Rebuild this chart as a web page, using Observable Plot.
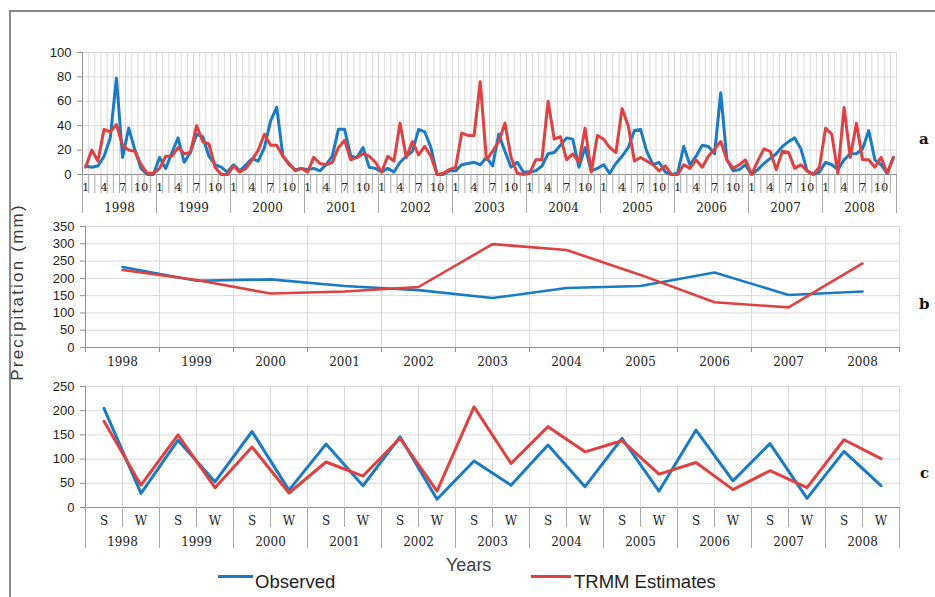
<!DOCTYPE html>
<html>
<head>
<meta charset="utf-8">
<script src="https://cdn.jsdelivr.net/npm/d3@7"></script>
<script src="https://cdn.jsdelivr.net/npm/@observablehq/plot@0.6"></script>
<style>
  body { margin: 0; background: #fff; }
  #fig { position: relative; width: 935px; height: 597px; overflow: hidden; background: #fff; }
  .frame { position: absolute; left: 9px; top: 10px; width: 960px; height: 620px;
           border-left: 2px solid #8a8a8a; border-top: 2px solid #8a8a8a; }
  .panel { position: absolute; left: 0; }
  .lab { position: absolute; font-family: "DejaVu Serif", serif; font-weight: bold; font-size: 15px; color: #111; }
  .ytitle { position: absolute; left: -92px; top: 282px; width: 220px; text-align: center;
            transform: rotate(-90deg); font-family: "Liberation Sans", Arial, sans-serif;
            font-size: 17px; letter-spacing: 2.2px; color: #3a3a3a; white-space: nowrap; }
  .xtitle { position: absolute; left: 446px; top: 555px; font-family: "Liberation Sans", Arial, sans-serif;
            font-size: 18px; color: #404040; }
  .legtext { position: absolute; font-family: "Liberation Sans", Arial, sans-serif; font-size: 18.5px; color: #222; }
  .legline { position: absolute; height: 3px; }
</style>
</head>
<body>
<div id="fig">
  <div class="frame"></div>
  <div class="panel" id="pa" style="top:40px"></div>
  <div class="panel" id="pb" style="top:215px"></div>
  <div class="panel" id="pc" style="top:375px"></div>
  <div class="ytitle">Precipitation (mm)</div>
  <div class="xtitle">Years</div>
  <div class="legline" style="left:218px;top:575px;width:35px;background:#1a7bc4"></div>
  <div class="legtext" style="left:255px;top:571px">Observed</div>
  <div class="legline" style="left:531px;top:575px;width:40px;background:#df4040"></div>
  <div class="legtext" style="left:574px;top:571px">TRMM Estimates</div>
  <div class="lab" style="left:919px;top:130px">a</div>
  <div class="lab" style="left:919px;top:295px">b</div>
  <div class="lab" style="left:920px;top:464px">c</div>
</div>
<script>
// ---------- data ----------
const years = ["1998","1999","2000","2001","2002","2003","2004","2005","2006","2007","2008"];
const monthLabels = [1, 4, 7, 10];
const seasonLabels = ["S", "W"];

// monthly precipitation (mm), Jan 1998 .. Dec 2008
const obsMonthly = [
  7, 6, 7, 15, 30, 79, 14, 38, 20, 5, 0, 0,
  14, 5, 18, 30, 10, 18, 33, 31, 15, 8, 6, 2,
  8, 3, 8, 13, 11, 22, 44, 55, 15, 8, 4, 5,
  4, 5, 3, 8, 15, 37, 37, 15, 14, 22, 6, 5,
  2, 5, 2, 10, 15, 19, 37, 35, 22, 0, 0, 3,
  3, 8, 9, 10, 8, 14, 7, 33, 19, 6, 10, 2,
  2, 3, 7, 17, 18, 24, 30, 29, 6, 22, 3, 5,
  8, 1, 9, 15, 22, 36, 37, 19, 8, 10, 2, 0,
  1, 23, 8, 15, 24, 23, 17, 67, 12, 3, 4, 8,
  0, 4, 9, 13, 17, 23, 27, 30, 21, 3, 0, 2,
  10, 8, 4, 12, 17, 17, 21, 36, 12, 8, 1, 14
];
const trmmMonthly = [
  6, 20, 11, 37, 35, 41, 24, 20, 19, 8, 1, 1,
  5, 15, 15, 22, 17, 18, 40, 27, 25, 6, 0, 0,
  7, 2, 5, 12, 20, 33, 24, 24, 15, 9, 3, 5,
  2, 14, 9, 8, 10, 22, 28, 12, 14, 17, 15, 10,
  2, 15, 11, 42, 14, 27, 16, 23, 15, 0, 1, 4,
  6, 34, 32, 32, 76, 12, 19, 27, 42, 14, 1, 0,
  1, 12, 12, 60, 29, 31, 12, 17, 10, 38, 2, 32,
  29, 22, 18, 54, 40, 11, 14, 11, 8, 3, 7, 0,
  0, 8, 5, 12, 6, 15, 21, 27, 12, 5, 8, 12,
  0, 11, 21, 19, 4, 19, 18, 5, 8, 3, 0, 6,
  38, 33, 1, 55, 14, 42, 12, 12, 6, 14, 1, 14
];

// annual totals
const obsAnnual  = [233, 193, 197, 178, 166, 143, 172, 178, 217, 152, 162];
const trmmAnnual = [224, 195, 156, 162, 175, 299, 282, 210, 131, 116, 243];

// seasonal (S, W per year)
const obsSeason  = [205, 29, 139, 53, 157, 36, 131, 45, 146, 17, 96, 46, 129, 43, 143, 34, 160, 55, 132, 19, 116, 45];
const trmmSeason = [178, 46, 150, 41, 125, 30, 94, 65, 143, 34, 208, 91, 167, 115, 138, 69, 93, 37, 76, 41, 140, 101];

const yTicksA = [0, 20, 40, 60, 80, 100];
const yTicksB = [0, 50, 100, 150, 200, 250, 300, 350];
const yTicksC = [0, 50, 100, 150, 200, 250];

// ---------- style ----------
const BLUE = "#1a7bc4", RED = "#df4040";
const GRID = "#d9d9d9", AXIS = "#8f8f8f";
const SANS = "Liberation Sans, Arial, sans-serif";
const SERIF = "DejaVu Serif, serif";
const baseStyle = {fontFamily: SANS, fontSize: "12px", color: "#222", background: "transparent", overflow: "visible"};

function yAxis(ticks) {
  return Plot.axisY({ticks, tickSize: 5, tickPadding: 6, stroke: AXIS, fontSize: 13, fontFamily: SANS, label: null, tickFormat: d => String(d)});
}

// ---------- panel a: monthly ----------
{
  const n = obsMonthly.length;
  const rows = obsMonthly.map((v, i) => ({i, obs: v, trmm: trmmMonthly[i]}));
  const monthPos = [];
  years.forEach((y, k) => monthLabels.forEach(m => monthPos.push(k * 12 + m - 0.5)));
  const yearPos = years.map((y, k) => k * 12 + 6);
  const chart = Plot.plot({
    width: 935, height: 180,
    marginLeft: 82, marginRight: 39, marginTop: 12, marginBottom: 46,
    x: {type: "linear", domain: [0, n]},
    y: {domain: [0, 100]},
    style: baseStyle,
    marks: [
      Plot.gridX({ticks: d3.range(0, n + 1), stroke: GRID, strokeOpacity: 1}),
      Plot.gridY({ticks: yTicksA, stroke: GRID, strokeOpacity: 1}),
      Plot.ruleY([0], {stroke: AXIS}),
      Plot.ruleX([0], {stroke: AXIS}),
      yAxis(yTicksA),
      Plot.axisX({ticks: d3.range(0, n + 1), tickSize: 19, tickFormat: () => "", stroke: "#a8a8a8", label: null}),
      Plot.axisX({ticks: d3.range(0, n + 1, 12), tickSize: 39, tickFormat: () => "", stroke: "#a8a8a8", label: null}),
      Plot.axisX({ticks: monthPos, tickSize: 0, tickPadding: 8, fontFamily: SERIF, fontSize: 11.5, label: null,
                  tickFormat: d => String(Math.round(d + 0.5) % 12 === 0 ? 12 : Math.round(d + 0.5) % 12)}),
      Plot.axisX({ticks: yearPos, tickSize: 0, tickPadding: 29, fontFamily: SERIF, fontSize: 12, label: null,
                  tickFormat: d => years[Math.floor(d / 12)]}),
      Plot.line(rows, {x: d => d.i + 0.5, y: "obs", stroke: BLUE, strokeWidth: 3}),
      Plot.line(rows, {x: d => d.i + 0.5, y: "trmm", stroke: RED, strokeWidth: 3})
    ]
  });
  document.getElementById("pa").append(chart);
}

// ---------- panel b: annual ----------
{
  const n = years.length;
  const rows = years.map((y, i) => ({i, obs: obsAnnual[i], trmm: trmmAnnual[i]}));
  const chart = Plot.plot({
    width: 935, height: 160,
    marginLeft: 85, marginRight: 36, marginTop: 11, marginBottom: 28,
    x: {type: "linear", domain: [0, n]},
    y: {domain: [0, 350]},
    style: baseStyle,
    marks: [
      Plot.gridX({ticks: d3.range(0, n + 1), stroke: GRID, strokeOpacity: 1}),
      Plot.gridY({ticks: yTicksB, stroke: GRID, strokeOpacity: 1}),
      Plot.ruleY([0], {stroke: AXIS}),
      Plot.ruleX([0], {stroke: AXIS}),
      yAxis(yTicksB),
      Plot.axisX({ticks: d3.range(0, n + 1), tickSize: 5, tickFormat: () => "", stroke: AXIS, label: null}),
      Plot.axisX({ticks: d3.range(n).map(i => i + 0.5), tickSize: 0, tickPadding: 10, fontFamily: SERIF, fontSize: 12, label: null,
                  tickFormat: d => years[Math.floor(d)]}),
      Plot.line(rows, {x: d => d.i + 0.5, y: "obs", stroke: BLUE, strokeWidth: 2.6}),
      Plot.line(rows, {x: d => d.i + 0.5, y: "trmm", stroke: RED, strokeWidth: 2.6})
    ]
  });
  document.getElementById("pb").append(chart);
}

// ---------- panel c: seasonal ----------
{
  const n = obsSeason.length;
  const rows = obsSeason.map((v, i) => ({i, obs: v, trmm: trmmSeason[i]}));
  const chart = Plot.plot({
    width: 935, height: 180,
    marginLeft: 85, marginRight: 36, marginTop: 11, marginBottom: 48,
    x: {type: "linear", domain: [0, n]},
    y: {domain: [0, 250]},
    style: baseStyle,
    marks: [
      Plot.gridX({ticks: d3.range(0, n + 1), stroke: GRID, strokeOpacity: 1}),
      Plot.gridY({ticks: yTicksC, stroke: GRID, strokeOpacity: 1}),
      Plot.ruleY([0], {stroke: AXIS}),
      Plot.ruleX([0], {stroke: AXIS}),
      yAxis(yTicksC),
      Plot.axisX({ticks: d3.range(1, n, 2), tickSize: 20, tickFormat: () => "", stroke: "#a8a8a8", label: null}),
      Plot.axisX({ticks: d3.range(0, n + 1, 2), tickSize: 41, tickFormat: () => "", stroke: "#a8a8a8", label: null}),
      Plot.axisX({ticks: d3.range(n).map(i => i + 0.5), tickSize: 0, tickPadding: 9, fontFamily: SERIF, fontSize: 12, label: null,
                  tickFormat: d => seasonLabels[Math.floor(d) % 2]}),
      Plot.axisX({ticks: years.map((y, k) => 2 * k + 1), tickSize: 0, tickPadding: 30, fontFamily: SERIF, fontSize: 12, label: null,
                  tickFormat: d => years[Math.floor(d / 2)]}),
      Plot.line(rows, {x: d => d.i + 0.5, y: "obs", stroke: BLUE, strokeWidth: 3}),
      Plot.line(rows, {x: d => d.i + 0.5, y: "trmm", stroke: RED, strokeWidth: 3})
    ]
  });
  document.getElementById("pc").append(chart);
}
</script>
</body>
</html>
